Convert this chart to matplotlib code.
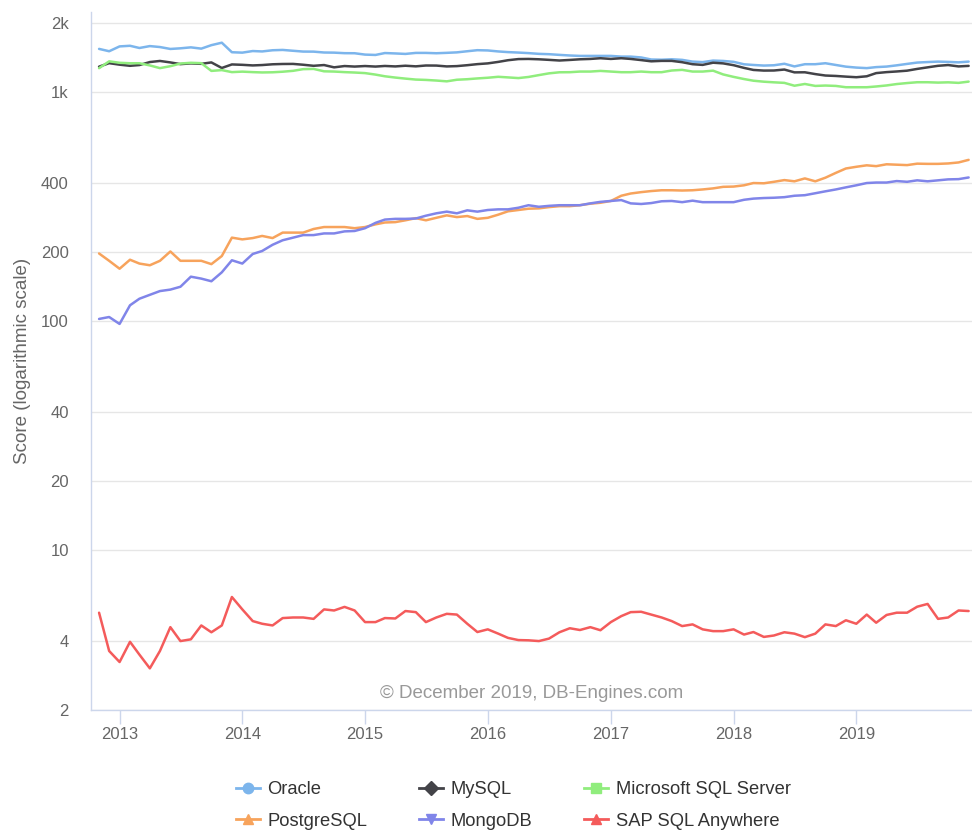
import matplotlib
matplotlib.use("Agg")
import matplotlib.pyplot as plt
from matplotlib.lines import Line2D
import matplotlib.dates as mdates
import numpy as np
import pandas as pd

plt.rcParams['font.family'] = ['Liberation Sans', 'DejaVu Sans']

# monthly scores, Nov 2012 - Dec 2019
months = pd.date_range("2012-11-01", periods=86, freq="MS")

oracle = [1541, 1505, 1580, 1590, 1555, 1585, 1570, 1540, 1550, 1565,
          1545, 1600, 1640, 1490, 1484, 1508, 1502, 1520, 1525, 1512,
          1500, 1499, 1486, 1484, 1476, 1475, 1455, 1450, 1478, 1472,
          1465, 1480, 1480, 1475, 1481, 1488, 1505, 1521, 1517, 1502,
          1492, 1485, 1477, 1466, 1461, 1451, 1442, 1436, 1436, 1436,
          1436, 1426, 1426, 1414, 1385, 1382, 1388, 1380, 1356, 1349,
          1370, 1365, 1353, 1320, 1311, 1303, 1307, 1327, 1292, 1321,
          1321, 1334, 1311, 1289, 1277, 1270, 1283, 1290, 1306, 1325,
          1343, 1350, 1356, 1352, 1346, 1356]

mysql = [1289, 1335, 1315, 1300, 1310, 1350, 1365, 1345, 1322, 1332,
         1326, 1345, 1272, 1318, 1313, 1305, 1310, 1320, 1324, 1325,
         1314, 1300, 1310, 1280, 1297, 1290, 1297, 1290, 1298, 1292,
         1301, 1293, 1304, 1303, 1292, 1296, 1308, 1322, 1332, 1352,
         1375, 1391, 1393, 1388, 1380, 1371, 1379, 1388, 1393, 1403,
         1393, 1403, 1393, 1377, 1360, 1366, 1366, 1348, 1321, 1312,
         1341, 1332, 1308, 1273, 1247, 1239, 1240, 1252, 1217, 1218,
         1196, 1179, 1174, 1166, 1159, 1170, 1208, 1220, 1228, 1238,
         1260, 1280, 1300, 1310, 1292, 1299]

mssql = [1269, 1360, 1340, 1334, 1334, 1305, 1270, 1295, 1330, 1340,
         1335, 1235, 1245, 1220, 1226, 1220, 1216, 1218, 1225, 1236,
         1257, 1260, 1230, 1227, 1220, 1215, 1208, 1190, 1170, 1155,
         1143, 1132, 1128, 1121, 1112, 1130, 1136, 1145, 1153, 1164,
         1157, 1149, 1162, 1184, 1205, 1218, 1219, 1227, 1227, 1235,
         1227, 1219, 1219, 1227, 1219, 1219, 1240, 1248, 1227, 1227,
         1238, 1192, 1163, 1138, 1119, 1108, 1101, 1095, 1064, 1083,
         1062, 1066, 1062, 1048, 1048, 1048, 1056, 1067, 1082, 1093,
         1102, 1102, 1098, 1101, 1095, 1109]

postgres = [197, 183, 169, 185, 178, 175, 183, 201, 183, 183,
            183, 177, 192, 231, 227, 230, 235, 230, 243, 243,
            243, 252, 257, 257, 257, 254, 257, 264, 269, 270,
            275, 281, 275, 282, 289, 284, 287, 279, 282, 291,
            301, 305, 309, 310, 314, 317, 317, 320, 325, 328,
            334, 352, 360, 365, 369, 372, 372, 371, 372, 375,
            379, 385, 386, 391, 400, 399, 405, 412, 407, 419,
            407, 422, 443, 463, 471, 478, 474, 483, 481, 479,
            486, 485, 485, 487, 492, 505]

mongodb = [102, 104, 97, 117, 125, 130, 135, 137, 141, 156,
           153, 149, 163, 184, 178, 196, 202, 215, 225, 231,
           237, 237, 241, 241, 246, 247, 254, 268, 277, 279,
           279, 280, 288, 295, 300, 295, 304, 300, 305, 307,
           307, 312, 320, 315, 318, 320, 320, 320, 326, 331,
           334, 337, 326, 324, 327, 333, 334, 330, 335, 330,
           330, 330, 330, 338, 342, 344, 345, 347, 352, 354,
           361, 368, 375, 383, 391, 400, 402, 402, 408, 405,
           411, 407, 411, 415, 416, 423]

sap_sql_anywhere = [5.32, 3.62, 3.24, 3.97, 3.49, 3.04, 3.62, 4.60, 4.00, 4.07,
                    4.68, 4.37, 4.68, 6.23, 5.50, 4.89, 4.76, 4.68, 5.04, 5.07,
                    5.07, 5.00, 5.50, 5.44, 5.64, 5.44, 4.84, 4.84, 5.04, 5.02,
                    5.41, 5.35, 4.84, 5.07, 5.26, 5.22, 4.76, 4.38, 4.50, 4.31,
                    4.13, 4.04, 4.03, 4.00, 4.10, 4.37, 4.55, 4.47, 4.60, 4.46,
                    4.84, 5.14, 5.35, 5.37, 5.22, 5.07, 4.89, 4.65, 4.73, 4.50,
                    4.42, 4.42, 4.50, 4.27, 4.38, 4.17, 4.23, 4.37, 4.31, 4.16,
                    4.31, 4.73, 4.65, 4.93, 4.76, 5.22, 4.81, 5.20, 5.32, 5.32,
                    5.65, 5.81, 5.00, 5.07, 5.44, 5.41]

names = ["Oracle", "MySQL", "Microsoft SQL Server",
         "PostgreSQL", "MongoDB", "SAP SQL Anywhere"]
series = [oracle, mysql, mssql, postgres, mongodb, sap_sql_anywhere]
colors = ["#7cb5ec", "#434348", "#90ed7d", "#f7a35c", "#8085e9", "#f45b5b"]
markers = ["o", "D", "s", "^", "v", "^"]

y_ticks = [2, 4, 10, 20, 40, 100, 200, 400, 1000, 2000]
y_labels = ["2", "4", "10", "20", "40", "100", "200", "400", "1k", "2k"]

fig = plt.figure(figsize=(9.72, 8.3), dpi=100)
ax = fig.add_axes([91 / 972, 120 / 830, 881 / 972, 698 / 830])

for vals, col in zip(series, colors):
    ax.plot(months, vals, color=col, lw=1.8, solid_joinstyle="round",
            solid_capstyle="round", zorder=3)

ax.set_yscale("log")
ax.set_ylim(2, 2233)
ax.set_yticks(y_ticks)
ax.set_yticklabels(y_labels)
ax.yaxis.set_minor_locator(matplotlib.ticker.NullLocator())
ax.grid(axis="y", color="#e6e6e6", lw=1, zorder=0)
ax.tick_params(axis="y", length=0, pad=16, labelsize=12, labelcolor="#666666")

ax.set_xlim(pd.Timestamp("2012-10-08"), pd.Timestamp("2019-12-11"))
ax.xaxis.set_major_locator(mdates.YearLocator())
ax.xaxis.set_major_formatter(mdates.DateFormatter("%Y"))
ax.tick_params(axis="x", length=10, width=1, color="#ccd6eb", pad=2,
               labelsize=12, labelcolor="#666666")

for s in ["top", "right"]:
    ax.spines[s].set_visible(False)
for s in ["left", "bottom"]:
    ax.spines[s].set_color("#ccd6eb")
    ax.spines[s].set_linewidth(1)

ax.set_ylabel("Score (logarithmic scale)", fontsize=13.5, color="#666666", labelpad=7)

ax.text(0.5, 0.024, "\u00a9 December 2019, DB-Engines.com", transform=ax.transAxes,
        ha="center", va="center", fontsize=13.5, color="#999999")

handles = [Line2D([], [], color=c, lw=2, marker=m, markersize=7.5)
           for c, m in zip(colors, markers)]
order = [0, 3, 1, 4, 2, 5]
fig.legend([handles[i] for i in order], [names[i] for i in order],
           loc="upper center", bbox_to_anchor=(0.528, 0.070), ncol=3,
           frameon=False, fontsize=13.2, handlelength=1.3, handletextpad=0.4,
           columnspacing=2.85, labelspacing=0.8, borderpad=0,
           labelcolor="#333333")

fig.savefig("out.png", dpi=100)
